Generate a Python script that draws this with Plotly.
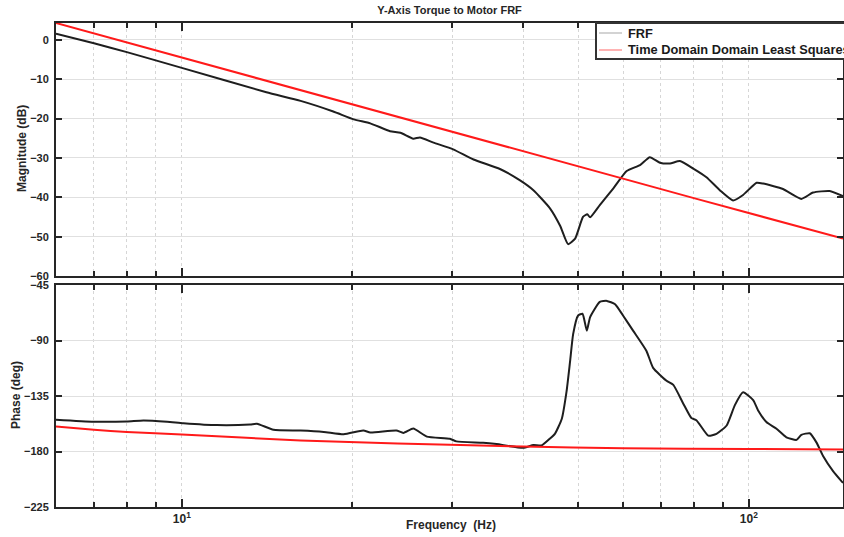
import math
import plotly.graph_objects as go

# ---------------- data ----------------
freq_mag = [6.0, 7.0, 8.0, 10.0, 14.1, 16.2, 18.5, 20.1, 21.5, 23.3, 24.3, 25.6, 26.3,
            27.8, 30.1, 32.7, 36.4, 39.5, 41.7, 44.6, 46.5, 48.0, 49.4, 51.0, 51.9, 52.5,
            54.6, 57.7, 60.9, 64.3, 66.9, 69.7, 72.6, 75.6, 79.8, 84.2, 88.9, 93.8, 97.7,
            103.2, 106.0, 114.9, 123.8, 129.8, 138.9, 146.6]
mag_frf = [1.6, -0.85, -3.1, -7.1, -13.3, -15.5, -18.2, -20.2, -21.2, -23.2, -23.6, -25.1, -24.8,
           -26.1, -27.8, -30.4, -32.8, -35.7, -38.2, -42.8, -47.3, -51.9, -50.5, -45.0, -44.3, -45.1,
           -42.0, -37.7, -33.3, -31.8, -29.8, -31.2, -31.4, -30.8, -32.7, -34.9, -38.2, -40.8, -39.4,
           -36.3, -36.5, -37.9, -40.4, -38.8, -38.4, -39.7]

freq_phase = [6.0, 6.99, 8.0, 8.56, 9.42, 10.07, 11.53, 13.2, 13.57, 14.51, 16.2, 17.8, 19.3,
              20.9, 21.5, 23.9, 24.6, 25.6, 27.05, 29.7, 30.5, 34.0, 35.9, 40.0, 41.7, 43.1,
              44.6, 45.5, 46.8, 47.7, 48.4, 49.0, 50.0, 50.9, 51.8, 52.5, 54.6, 56.2, 58.1,
              60.0, 62.5, 66.0, 67.8, 71.6, 73.6, 76.6, 79.2, 80.9, 84.8, 87.7, 91.4, 94.5,
              97.7, 101.8, 103.8, 107.4, 111.9, 116.5, 121.4, 123.8, 128.1, 131.6, 135.2,
              140.8, 146.6]
phase_frf = [-154.2, -155.8, -155.6, -154.8, -155.8, -157.0, -158.6, -158.1, -157.5, -162.4, -163.0, -164.1, -166.0,
             -163.0, -164.6, -163.0, -164.9, -161.4, -167.9, -169.6, -171.8, -172.9, -174.0, -177.0, -174.8, -175.1,
             -169.5, -165.7, -153.4, -131.5, -106.8, -84.8, -69.7, -68.3, -82.0, -71.0, -58.7, -57.9, -60.6,
             -69.7, -82.0, -98.5, -112.2, -122.7, -126.0, -141.0, -152.9, -154.8, -167.1, -165.7, -158.9, -142.4,
             -132.0, -138.3, -146.5, -156.1, -161.6, -168.5, -170.6, -166.5, -165.2, -172.6, -183.6,
             -195.9, -205.5]

freq_ls = [6.0, 10.0, 20.0, 40.0, 80.0, 146.6]
mag_ls = [4.3, -4.5, -16.4, -28.3, -40.2, -50.5]
freq_ls_phase = [6.0, 7.0, 8.0, 10.0, 16.2, 24.0, 40.0, 60.0, 100.0, 146.6]
phase_ls = [-159.7, -162.3, -164.2, -166.3, -171.0, -173.5, -176.0, -177.3, -178.0, -178.3]

series_names = ["FRF", "Time Domain Domain Least Squares"]
title_text = "Y-Axis Torque to Motor FRF"
mag_ticks = [-60, -50, -40, -30, -20, -10, 0]
phase_ticks = [-225, -180, -135, -90, -45]
x_major = [10, 100]
x_major_text = ["10<sup>1</sup>", "10<sup>2</sup>"]
x_minor = [7, 8, 9, 20, 30, 40, 50, 60, 70, 80, 90]

# ---------------- figure ----------------
FONT = "Liberation Sans, Arial, sans-serif"
AX = "#262626"
BLACK = "#1e1e1e"
RED = "#ff1a1a"
W, H = 844, 537
ML, MR, MT, MB = 56, 1, 23, 30
PW, PH = W - ML - MR, H - MT - MB


def px_x(p):
    return (p - ML) / PW


def px_y(p):
    return (H - MB - p) / PH


fig = go.Figure()
fig.add_trace(go.Scatter(x=freq_mag, y=mag_frf, mode="lines",
                         line=dict(color=BLACK, width=2, shape="spline", smoothing=0.5),
                         xaxis="x", yaxis="y", name=series_names[0], showlegend=False))
fig.add_trace(go.Scatter(x=freq_ls, y=mag_ls, mode="lines", line=dict(color=RED, width=2),
                         xaxis="x", yaxis="y", name=series_names[1], showlegend=False))
fig.add_trace(go.Scatter(x=freq_phase, y=phase_frf, mode="lines",
                         line=dict(color=BLACK, width=2, shape="spline", smoothing=0.5),
                         xaxis="x2", yaxis="y2", name=series_names[0], showlegend=False))
fig.add_trace(go.Scatter(x=freq_ls_phase, y=phase_ls, mode="lines",
                         line=dict(color=RED, width=2, shape="spline", smoothing=0.5),
                         xaxis="x2", yaxis="y2", name=series_names[1], showlegend=False))

xr = [math.log10(6.0), math.log10(146.6)]

common_x = dict(type="log", range=xr, showline=True, linecolor=AX, linewidth=2, mirror="allticks",
                ticks="inside", ticklen=8, tickwidth=1.5, tickcolor=AX,
                tickmode="array", tickvals=x_major,
                showgrid=True, gridcolor="#d6d6d6", griddash="dot", gridwidth=1,
                minor=dict(tickmode="array", tickvals=x_minor, ticks="inside", ticklen=5,
                           tickwidth=1.5, tickcolor=AX, showgrid=True, gridcolor="#d6d6d6",
                           griddash="dot", gridwidth=1),
                zeroline=False)
common_y = dict(showline=True, linecolor=AX, linewidth=2, mirror="allticks",
                ticks="inside", ticklen=6, tickwidth=1.5, tickcolor=AX,
                showgrid=True, gridcolor="#e0e0e0", gridwidth=1, zeroline=False,
                tickfont=dict(family=FONT, size=11, color="#262626", weight="bold"),
                ticklabelstandoff=3)

top_y0 = px_y(276)
bot_y1 = px_y(285)

# manual legend box (the reference's legend runs past the right edge)
leg_left, leg_top, leg_bottom = 596, 23, 59
row_y = [33, 50]
leg_colors = ["#c4c4c4", "#ff9a9a"]
shapes = [dict(type="rect", xref="paper", yref="paper", x0=px_x(leg_left), x1=px_x(880),
               y0=px_y(leg_bottom), y1=px_y(leg_top), line=dict(color="#333333", width=2),
               fillcolor="white", layer="above")]
annotations = []
for name, col, ry in zip(series_names, leg_colors, row_y):
    shapes.append(dict(type="line", xref="paper", yref="paper", x0=px_x(599), x1=px_x(622),
                       y0=px_y(ry), y1=px_y(ry), line=dict(color=col, width=1.5), layer="above"))
    annotations.append(dict(text=name, xref="paper", yref="paper", x=px_x(626), y=px_y(ry),
                            xanchor="left", yanchor="middle", showarrow=False,
                            font=dict(family=FONT, size=12.8, color="#1a1a1a", weight="bold")))

annotations += [
    dict(text="Frequency  (Hz)", xref="paper", yref="paper", x=px_x(451), y=px_y(525),
         xanchor="center", yanchor="middle", showarrow=False,
         font=dict(family=FONT, size=12, color="#262626", weight="bold")),
    dict(text="Magnitude (dB)", xref="paper", yref="paper", x=px_x(22), y=px_y(149),
         xanchor="center", yanchor="middle", textangle=-90, showarrow=False,
         font=dict(family=FONT, size=12, color="#262626", weight="bold")),
    dict(text="Phase (deg)", xref="paper", yref="paper", x=px_x(16), y=px_y(395),
         xanchor="center", yanchor="middle", textangle=-90, showarrow=False,
         font=dict(family=FONT, size=12, color="#262626", weight="bold")),
]

fig.update_layout(
    width=W, height=H,
    margin=dict(l=ML, r=MR, t=MT, b=MB, autoexpand=False),
    paper_bgcolor="white", plot_bgcolor="white",
    font=dict(family=FONT, color="#262626"),
    showlegend=False,
    xaxis=dict(**common_x, anchor="y", domain=[0, 1], showticklabels=False, matches="x2"),
    xaxis2=dict(**common_x, anchor="y2", domain=[0, 1], ticktext=x_major_text,
                tickfont=dict(family=FONT, size=12, color="#262626", weight="bold")),
    yaxis=dict(**common_y, anchor="x", domain=[top_y0, 1], range=[-60, 4.3],
               tickmode="array", tickvals=mag_ticks),
    yaxis2=dict(**common_y, anchor="x2", domain=[0, bot_y1], range=[-225, -45],
                tickmode="array", tickvals=phase_ticks),
    title=dict(text=title_text, x=0.5, xref="paper", xanchor="center",
               y=1 - 10 / H, yref="container", yanchor="middle",
               font=dict(family=FONT, size=11, color="#262626", weight="bold")),
    shapes=shapes,
    annotations=annotations,
)

fig.write_html("out.html")
